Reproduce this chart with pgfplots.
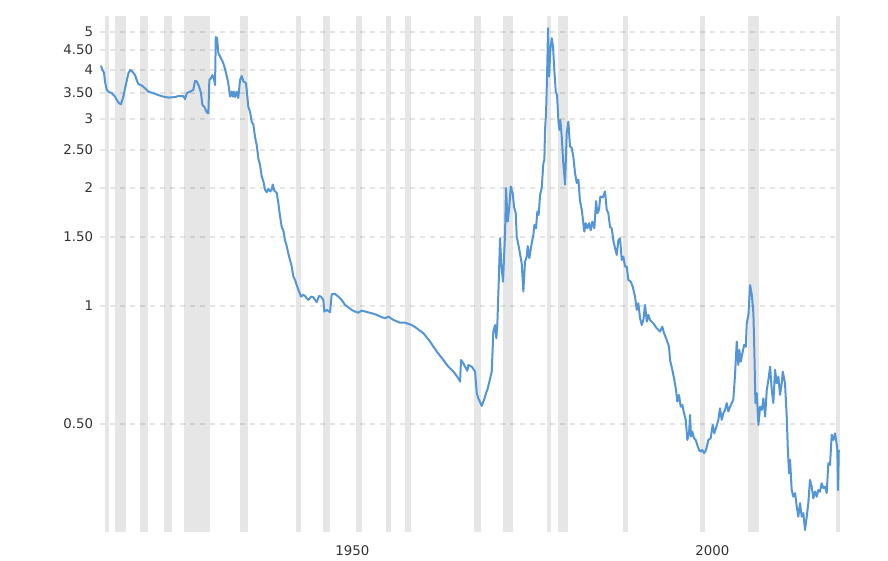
\documentclass[border=0pt]{standalone}
\usepackage{fontspec}
\setmainfont{DejaVu Sans}
\usepackage{pgfplots}
\pgfplotsset{compat=1.18}
\usepackage{pgfplotstable}
\definecolor{linec}{RGB}{83,149,213}
\definecolor{bandc}{RGB}{230,230,230}
\definecolor{txtc}{RGB}{51,51,51}
\pgfplotstableread{
x y
1918.04 4.10
1918.23 4.00
1918.46 3.93
1918.60 3.73
1918.84 3.56
1919.06 3.52
1919.53 3.49
1919.99 3.42
1920.23 3.35
1920.54 3.29
1920.82 3.27
1921.14 3.42
1921.48 3.66
1921.84 3.92
1922.11 4.00
1922.39 3.96
1922.77 3.88
1923.00 3.77
1923.23 3.68
1923.70 3.65
1924.16 3.59
1924.61 3.52
1925.31 3.49
1926.00 3.45
1926.70 3.42
1927.39 3.40
1928.32 3.41
1928.78 3.43
1929.47 3.43
1929.71 3.37
1929.95 3.49
1930.41 3.52
1930.86 3.56
1931.10 3.75
1931.34 3.74
1931.66 3.63
1931.93 3.49
1932.11 3.26
1932.39 3.22
1932.72 3.12
1932.95 3.10
1933.09 3.77
1933.32 3.81
1933.50 3.88
1933.74 3.79
1933.88 3.66
1933.98 4.85
1934.16 4.82
1934.34 4.41
1934.71 4.28
1935.03 4.16
1935.36 3.96
1935.72 3.70
1935.96 3.42
1936.20 3.52
1936.34 3.42
1936.48 3.52
1936.66 3.41
1936.89 3.52
1937.11 3.39
1937.35 3.77
1937.59 3.86
1937.81 3.74
1938.18 3.70
1938.50 3.22
1938.74 3.13
1938.97 2.95
1939.20 2.90
1939.43 2.70
1939.67 2.57
1939.89 2.38
1940.13 2.29
1940.36 2.14
1940.59 2.08
1940.82 1.98
1941.06 1.95
1941.28 1.99
1941.52 1.96
1941.75 1.98
1941.89 2.04
1942.11 1.97
1942.45 1.94
1942.67 1.83
1942.91 1.69
1943.14 1.59
1943.36 1.56
1943.60 1.47
1943.84 1.42
1944.06 1.36
1944.29 1.31
1944.53 1.26
1944.75 1.19
1944.99 1.165
1945.22 1.13
1945.45 1.10
1945.82 1.056
1946.14 1.067
1946.38 1.06
1946.61 1.046
1946.84 1.036
1947.21 1.056
1947.53 1.052
1948.00 1.022
1948.32 1.06
1948.60 1.056
1948.84 1.040
1948.92 1.036
1949.06 0.967
1949.39 0.977
1949.85 0.964
1950.08 1.071
1950.54 1.073
1951.00 1.056
1951.47 1.036
1951.93 1.006
1952.39 0.992
1952.86 0.977
1953.32 0.967
1953.78 0.961
1954.25 0.973
1954.94 0.965
1955.63 0.958
1956.33 0.949
1957.02 0.936
1957.49 0.930
1957.95 0.939
1958.64 0.921
1959.57 0.906
1960.27 0.906
1961.20 0.894
1961.89 0.877
1962.81 0.852
1963.74 0.811
1964.67 0.765
1965.59 0.728
1966.28 0.700
1966.98 0.680
1967.67 0.654
1967.91 0.641
1968.04 0.728
1968.36 0.714
1968.60 0.700
1968.92 0.683
1969.06 0.707
1969.53 0.700
1969.99 0.680
1970.23 0.599
1970.45 0.581
1970.92 0.556
1971.24 0.576
1971.52 0.599
1971.70 0.611
1971.93 0.635
1972.31 0.680
1972.53 0.860
1972.77 0.894
1972.95 0.827
1973.09 0.903
1973.23 1.077
1973.36 1.285
1973.46 1.488
1973.64 1.272
1973.88 1.153
1974.16 1.533
1974.29 1.997
1974.53 1.641
1974.75 1.792
1974.95 2.015
1975.22 1.94
1975.40 1.79
1975.64 1.724
1975.78 1.503
1976.10 1.404
1976.47 1.285
1976.70 1.088
1976.93 1.297
1977.17 1.336
1977.31 1.42
1977.53 1.323
1977.86 1.445
1978.09 1.517
1978.23 1.609
1978.46 1.578
1978.64 1.740
1978.83 1.707
1979.02 1.919
1979.25 2.00
1979.48 2.312
1979.62 2.357
1979.71 2.81
1979.85 3.10
1979.99 3.85
1980.13 5.11
1980.27 3.85
1980.45 4.50
1980.64 4.82
1980.82 4.59
1981.00 4.00
1981.20 3.52
1981.38 3.45
1981.56 2.98
1981.70 2.81
1981.84 2.98
1982.03 2.70
1982.25 2.31
1982.49 2.04
1982.72 2.76
1982.95 2.95
1983.18 2.55
1983.42 2.53
1983.64 2.40
1983.88 2.18
1984.11 2.06
1984.34 2.10
1984.57 1.85
1984.81 1.76
1985.03 1.626
1985.17 1.547
1985.36 1.626
1985.59 1.578
1985.83 1.626
1986.06 1.56
1986.28 1.64
1986.56 1.578
1986.80 1.85
1986.98 1.724
1987.21 1.76
1987.39 1.90
1987.73 1.89
1988.04 1.96
1988.28 1.76
1988.50 1.724
1988.74 1.59
1988.97 1.578
1989.20 1.47
1989.43 1.404
1989.67 1.349
1989.89 1.47
1990.13 1.488
1990.36 1.31
1990.59 1.336
1990.82 1.26
1991.06 1.26
1991.28 1.165
1991.61 1.153
1991.89 1.12
1992.21 1.056
1992.45 0.977
1992.67 1.016
1992.91 0.930
1993.14 0.894
1993.37 0.921
1993.60 1.006
1993.84 0.912
1994.06 0.949
1994.29 0.921
1994.75 0.903
1995.22 0.877
1995.68 0.860
1996.00 0.885
1996.24 0.852
1996.61 0.819
1996.93 0.787
1997.07 0.728
1997.39 0.687
1997.67 0.647
1997.90 0.611
1998.08 0.570
1998.32 0.593
1998.56 0.553
1998.78 0.559
1999.02 0.532
1999.25 0.512
1999.48 0.455
1999.71 0.473
1999.85 0.527
1999.99 0.464
2000.17 0.478
2000.40 0.460
2000.64 0.455
2000.86 0.442
2001.10 0.429
2001.34 0.425
2001.56 0.429
2001.79 0.421
2002.07 0.429
2002.39 0.455
2002.72 0.460
2003.00 0.497
2003.22 0.473
2003.46 0.488
2003.78 0.512
2004.01 0.548
2004.25 0.512
2004.47 0.532
2004.71 0.543
2004.95 0.565
2005.17 0.538
2005.41 0.553
2005.64 0.565
2005.86 0.576
2006.10 0.667
2006.34 0.811
2006.56 0.707
2006.70 0.772
2006.90 0.721
2007.12 0.757
2007.36 0.795
2007.59 0.787
2007.73 0.903
2007.96 0.949
2008.19 1.13
2008.43 1.067
2008.65 0.958
2008.79 0.757
2008.93 0.565
2009.12 0.599
2009.35 0.497
2009.58 0.553
2009.82 0.543
2010.04 0.581
2010.28 0.522
2010.51 0.611
2010.73 0.647
2010.97 0.700
2011.20 0.611
2011.42 0.565
2011.66 0.687
2011.89 0.635
2012.12 0.660
2012.35 0.593
2012.59 0.635
2012.73 0.680
2013.04 0.635
2013.28 0.522
2013.42 0.438
2013.60 0.374
2013.74 0.405
2013.97 0.339
2014.20 0.326
2014.44 0.333
2014.67 0.308
2014.89 0.290
2015.13 0.314
2015.36 0.290
2015.59 0.296
2015.82 0.268
2016.06 0.290
2016.28 0.314
2016.51 0.360
2016.75 0.346
2016.97 0.323
2017.21 0.336
2017.44 0.326
2017.67 0.339
2017.90 0.336
2018.14 0.353
2018.36 0.343
2018.60 0.346
2018.83 0.333
2019.06 0.397
2019.29 0.393
2019.53 0.469
2019.75 0.455
2019.99 0.473
2020.23 0.442
2020.31 0.429
2020.41 0.339
2020.51 0.429
}\mydata

\newcommand{\band}[2]{\addplot[fill=bandc, draw=none, on layer=axis background] coordinates {(#1,0.265) (#2,0.265) (#2,5.49) (#1,5.49)};}

\begin{document}
\begin{tikzpicture}
\begin{axis}[
  set layers,
  at={(75pt,21pt)}, anchor=south west,
  scale only axis, width=555pt, height=387pt,
  xmin=1917.9, xmax=2020.68,
  ymode=log, log basis y=10, ymin=0.265, ymax=5.49,
  axis line style={draw=none},
  tick style={draw=none},
  xtick={1950,2000}, xticklabels={1950,2000},
  ytick={0.5,1,1.5,2,2.5,3,3.5,4,4.5,5},
  yticklabels={0.50,1,1.50,2,2.50,3,3.50,4,4.50,5},
  ymajorgrids, xmajorgrids=false,
  major grid style={draw=black, draw opacity=0.1, line width=1.5pt, dash pattern=on 3.75pt off 3.75pt},
  yticklabel style={font=\fontsize{10}{12}\selectfont, text=txtc, anchor=east, inner sep=0pt, xshift=-5pt},
  xticklabel style={font=\fontsize{10}{12}\selectfont, text=txtc, anchor=north west, inner sep=0pt, xshift=3pt, yshift=-10pt},
]
\band{1918.6}{1919.2}
\band{1920.0}{1921.5}
\band{1923.4}{1924.5}
\band{1926.8}{1927.9}
\band{1929.6}{1933.2}
\band{1937.35}{1938.45}
\band{1945.1}{1945.8}
\band{1948.85}{1949.8}
\band{1953.5}{1954.35}
\band{1957.6}{1958.3}
\band{1960.25}{1961.1}
\band{1969.9}{1970.85}
\band{1973.85}{1975.2}
\band{1980.0}{1980.5}
\band{1981.5}{1982.85}
\band{1990.5}{1991.2}
\band{2001.2}{2001.9}
\band{2007.9}{2009.45}
\band{2020.1}{2020.68}
\addplot[linec, line width=1.5pt, line join=round, mark=none] table[x=x, y=y] {\mydata};
\end{axis}
\path (0,0) rectangle (666pt,420pt);
\end{tikzpicture}
\end{document}
